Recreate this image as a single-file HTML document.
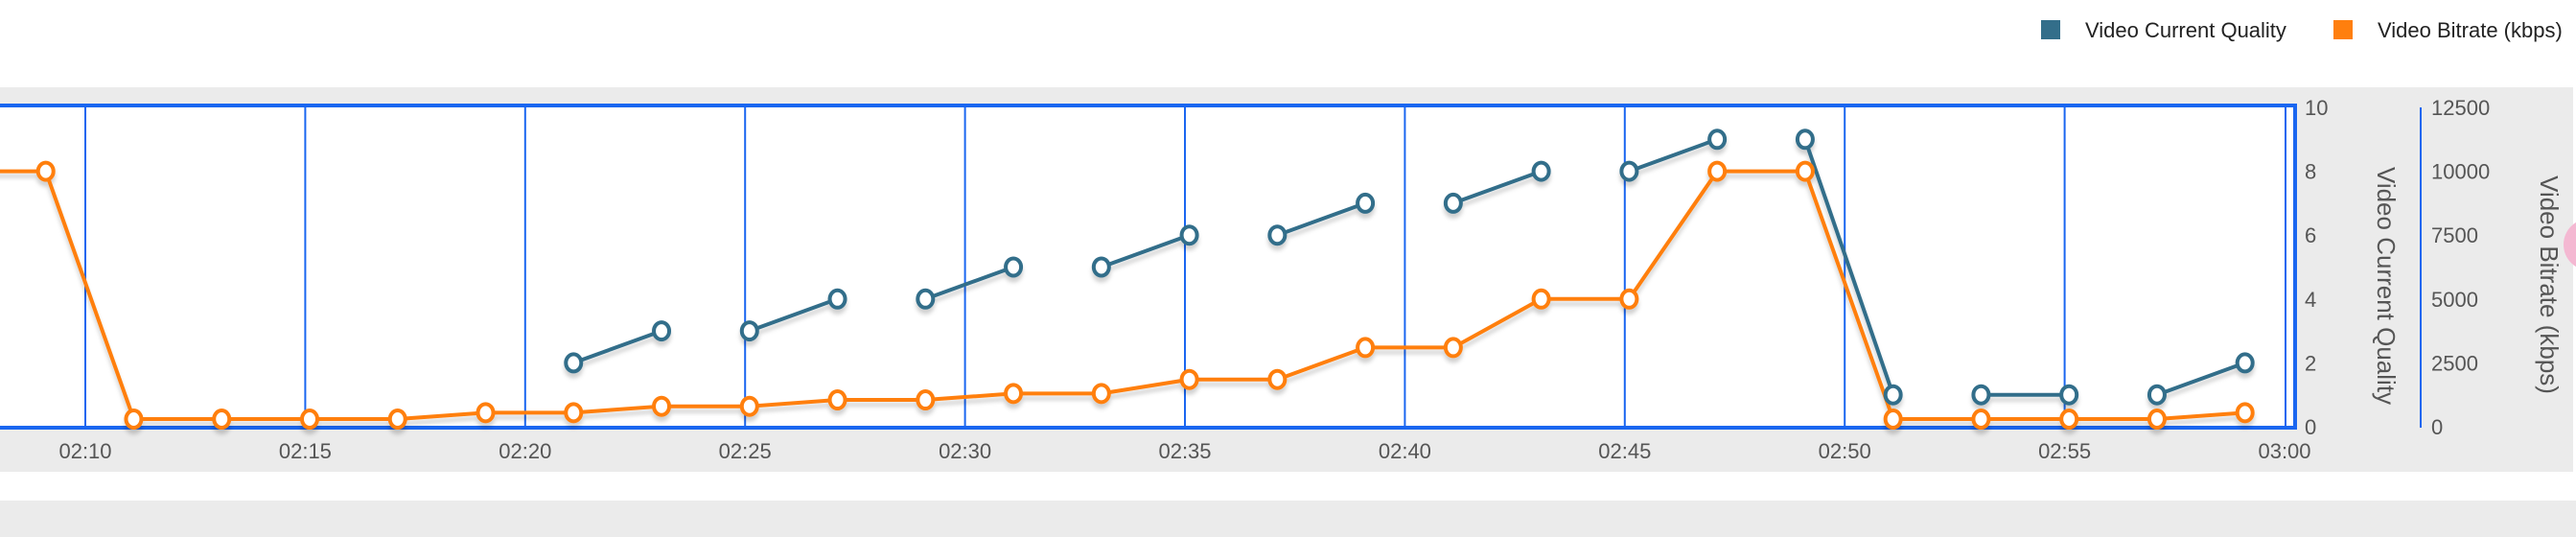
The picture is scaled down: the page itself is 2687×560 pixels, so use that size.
<!DOCTYPE html>
<html><head><meta charset="utf-8"><style>
html,body{margin:0;padding:0;background:#fff;width:2687px;height:560px;overflow:hidden}
svg text{font-family:"Liberation Sans",sans-serif}
</style></head><body>
<svg id="chart" width="2687" height="560">
<defs><filter id="sh" x="-5%" y="-5%" width="110%" height="130%"><feDropShadow dx="0" dy="5" stdDeviation="2" flood-color="#000" flood-opacity="0.18"/></filter></defs>
<rect x="0" y="91" width="2684" height="401" fill="#ebebeb"/>
<rect x="0" y="522" width="2687" height="38" fill="#ebebeb"/>
<rect x="0" y="110" width="2394" height="336" fill="#fff"/>
<circle cx="2701" cy="255" r="27" fill="#f4b8d2"/>
<g>
<rect x="2129" y="21" width="20" height="20" fill="#336e8a"/>
<text x="2175" y="39" font-size="22" fill="#222">Video Current Quality</text>
<rect x="2434" y="21" width="20" height="20" fill="#ff7f0e"/>
<text x="2480" y="39" font-size="22" fill="#222">Video Bitrate (kbps)</text>
</g>
<g id="grid"></g><g id="xticks"></g><g id="yticks"></g>
<line x1="0" y1="110" x2="2396" y2="110" stroke="#1a66f0" stroke-width="4"/>
<line x1="0" y1="446" x2="2396" y2="446" stroke="#1a66f0" stroke-width="4"/>
<line x1="2394" y1="108" x2="2394" y2="448" stroke="#1a66f0" stroke-width="4"/>
<line x1="2525" y1="112" x2="2525" y2="446" stroke="#1a66f0" stroke-width="2"/>
<text transform="translate(2480,298) rotate(90)" text-anchor="middle" font-size="26" fill="#555">Video Current Quality</text>
<text transform="translate(2650,297) rotate(90)" text-anchor="middle" font-size="26" fill="#555">Video Bitrate (kbps)</text>
<g id="series" filter="url(#sh)"></g>
</svg>
<script>
const xTickMinutes=[10,15,20,25,30,35,40,45,50,55,60];
const xTickLabels=["02:10","02:15","02:20","02:25","02:30","02:35","02:40","02:45","02:50","02:55","03:00"];
const qualityTicks=[0,2,4,6,8,10];
const bitrateTicks=[0,2500,5000,7500,10000,12500];
const pointMinutes=[7.1,9.1,11.1,13.1,15.1,17.1,19.1,21.1,23.1,25.1,27.1,29.1,31.1,33.1,35.1,37.1,39.1,41.1,43.1,45.1,47.1,49.1,51.1,53.1,55.1,57.1,59.1];
const bitrate=[10000,10000,300,300,300,300,550,550,800,800,1050,1050,1300,1300,1850,1850,3100,3100,5000,5000,10000,10000,300,300,300,300,550];
const quality=[null,null,null,null,null,null,null,2,3,3,4,4,5,5,6,6,7,7,8,8,9,9,1,1,1,1,2];
const qualityBreaks=[9,11,13,15,17,19,21,23,25];
const NS="http://www.w3.org/2000/svg";
const X=t=>89+(t-10)*45.88;
const YQ=v=>445-v/10*333;
const YB=v=>445-v/12500*333;
function mk(tag,attrs,parent){const e=document.createElementNS(NS,tag);for(const k in attrs)e.setAttribute(k,attrs[k]);parent.appendChild(e);return e;}
const grid=document.getElementById('grid'),xt=document.getElementById('xticks'),yt=document.getElementById('yticks'),ser=document.getElementById('series');
xTickMinutes.forEach((m,i)=>{
  const gx=i<xTickMinutes.length-1?X(m):X(m)+1;
  const l=mk('line',{x1:gx,x2:gx,y1:110,y2:446,stroke:'#1a66f0','stroke-width':2},grid);
  
  
  const t=mk('text',{x:X(m),y:478,'text-anchor':'middle','font-size':22,fill:'#555'},xt);t.textContent=xTickLabels[i];
  
  
});
qualityTicks.forEach(v=>{const t=mk('text',{x:2404,y:YQ(v)+8,'font-size':22,fill:'#555'},yt);t.textContent=v;
  
  });
bitrateTicks.forEach(v=>{const t=mk('text',{x:2536,y:YB(v)+8,'font-size':22,fill:'#555'},yt);t.textContent=v;
  
  });
const bp=bitrate.map((v,i)=>X(pointMinutes[i])+','+YB(v)).join(' ');
const bl=mk('polyline',{points:bp,fill:'none',stroke:'#ff7f0e','stroke-width':4,'stroke-linejoin':'round'},ser);


let seg=[];
function flush(){
  if(seg.length>1){const q=mk('polyline',{points:seg.join(' '),fill:'none',stroke:'#336e8a','stroke-width':4},ser);
  
  }
  seg=[];
}
quality.forEach((v,i)=>{
  if(qualityBreaks.includes(i))flush();
  if(v!==null)seg.push(X(pointMinutes[i])+','+YQ(v));
});
flush();
quality.forEach((v,i)=>{if(v===null)return;
  const c=mk('ellipse',{cx:X(pointMinutes[i]),cy:YQ(v),rx:8,ry:9,fill:'#fff',stroke:'#336e8a','stroke-width':4},ser);
  
  });
bitrate.forEach((v,i)=>{
  const c=mk('ellipse',{cx:X(pointMinutes[i]),cy:YB(v),rx:8,ry:9,fill:'#fff',stroke:'#ff7f0e','stroke-width':4},ser);
  
  });
</script>
</body></html>
